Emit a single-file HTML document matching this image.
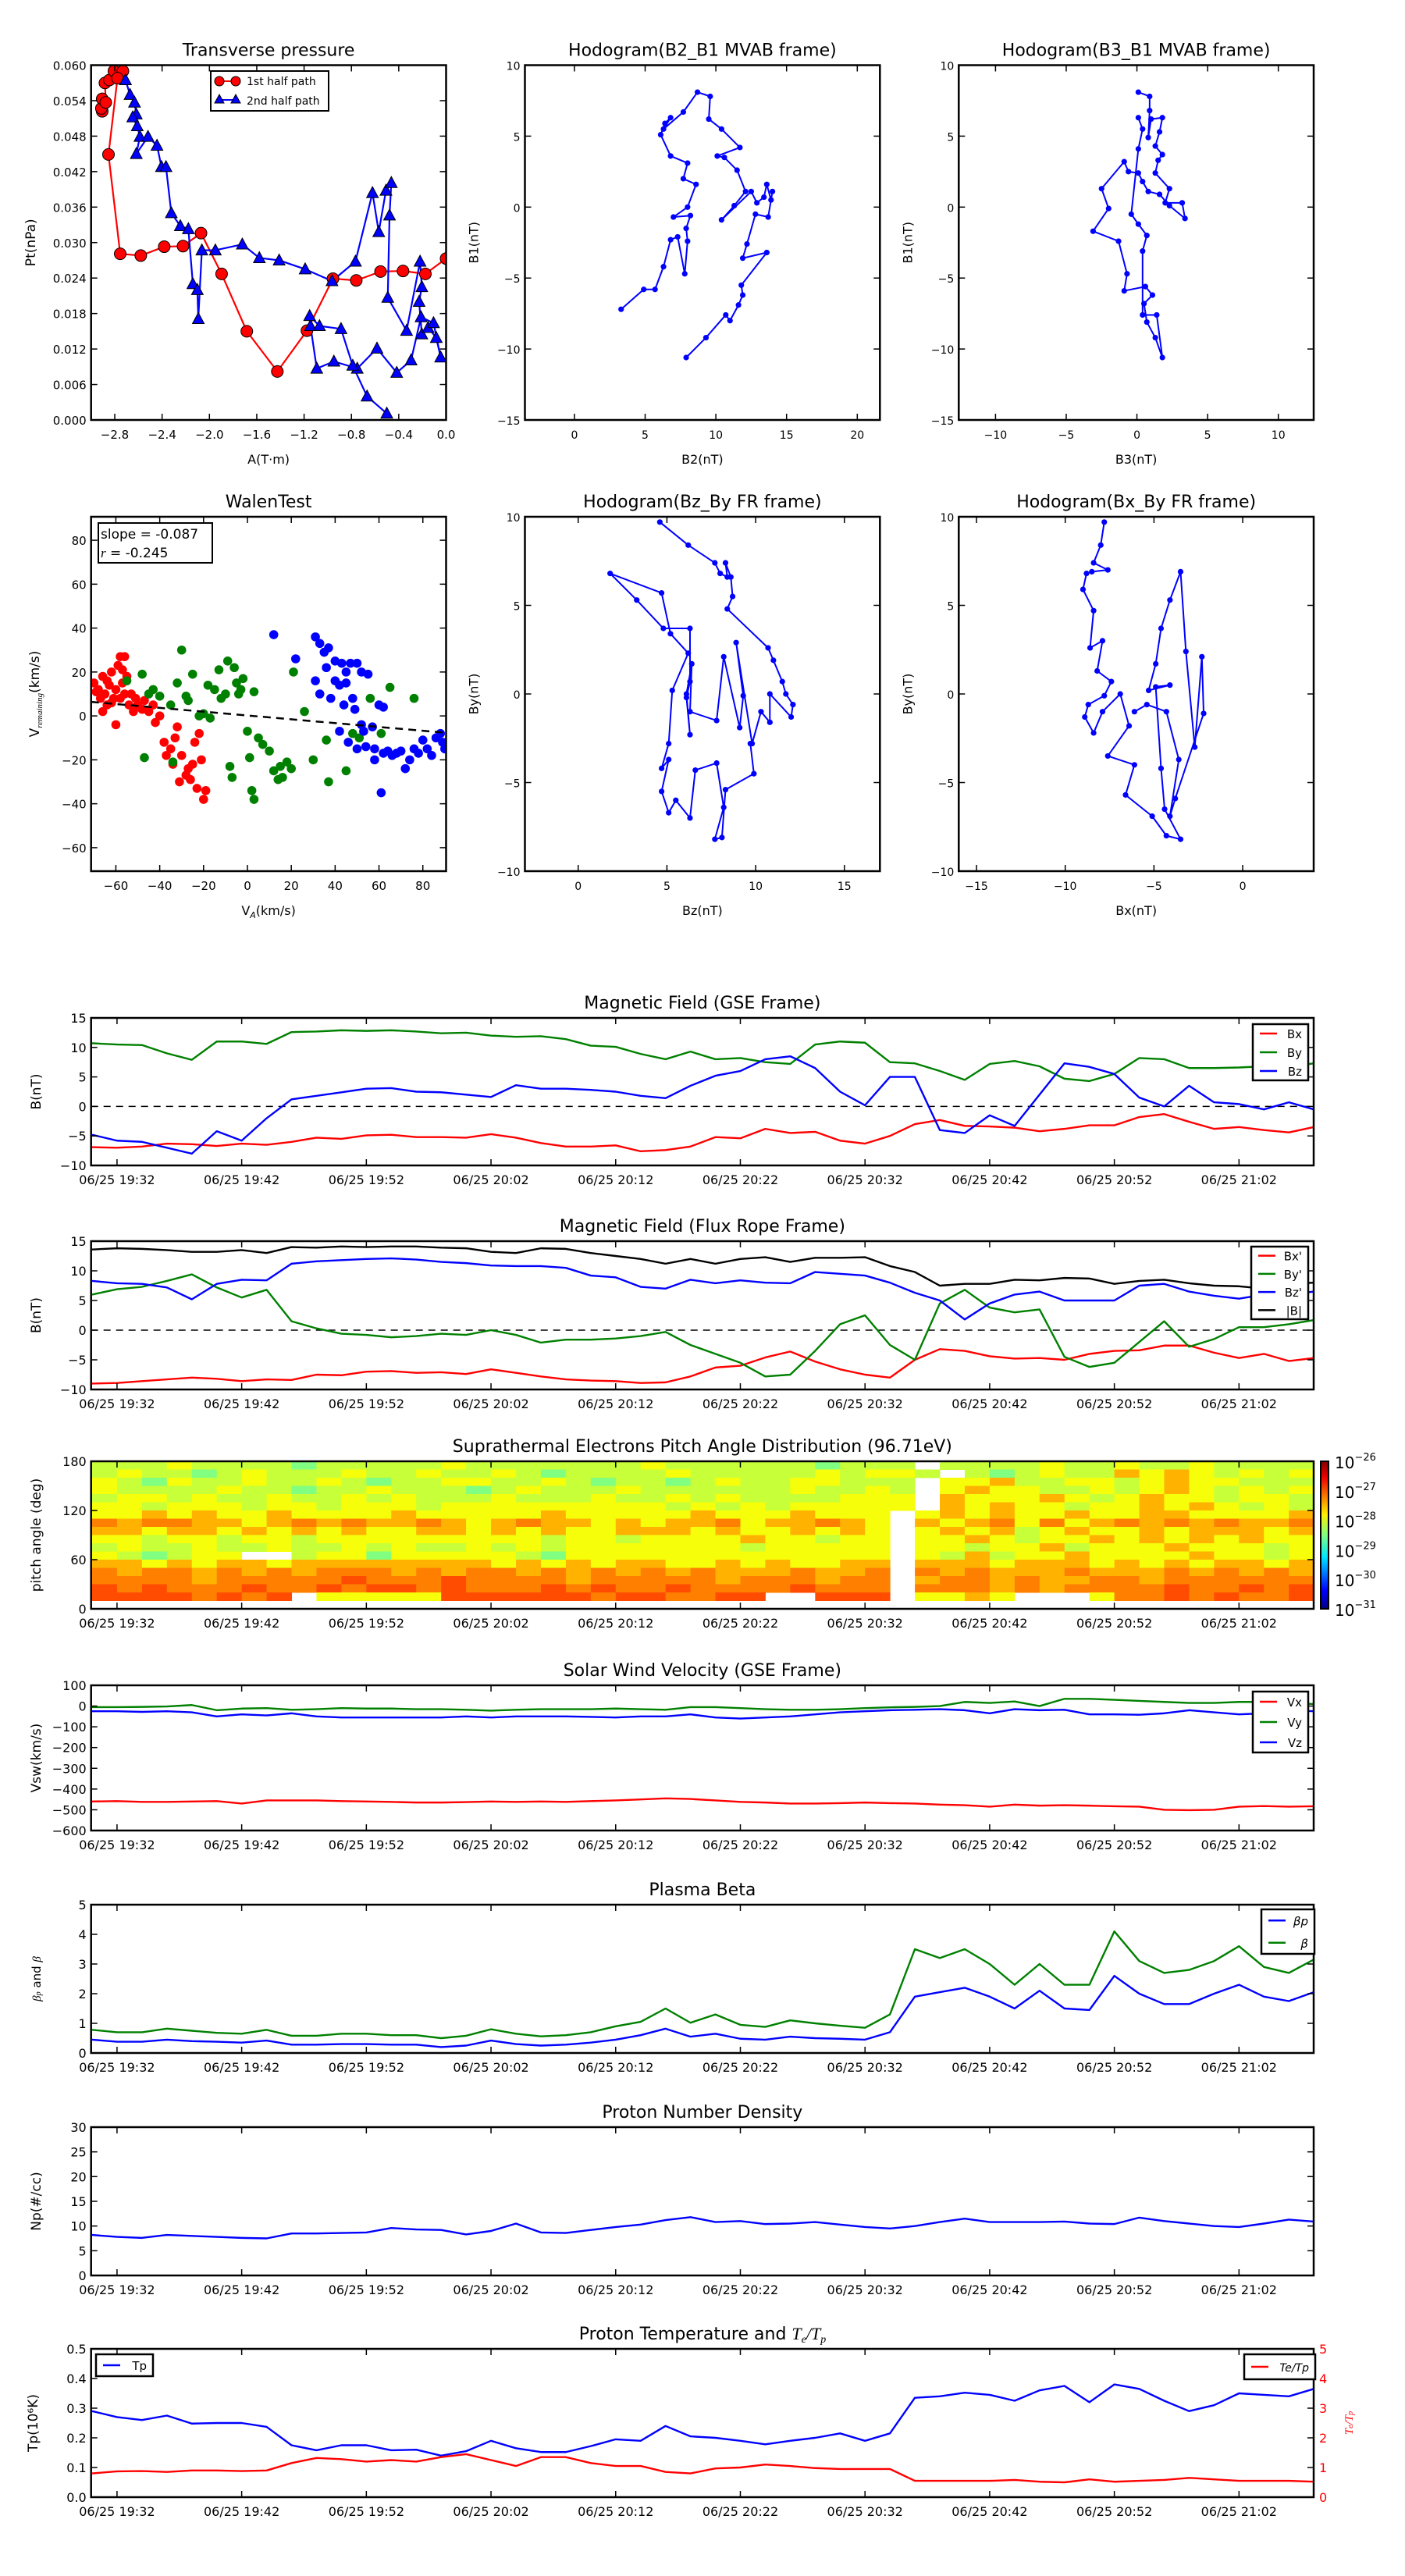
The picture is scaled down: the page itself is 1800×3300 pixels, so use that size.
<!DOCTYPE html>
<html><head><meta charset="utf-8"><style>
html,body{margin:0;padding:0;background:#fff;}
svg{display:block;font-family:"DejaVu Sans","Liberation Sans",sans-serif;}
</style></head><body>
<svg id="fig" xmlns="http://www.w3.org/2000/svg" width="1800" height="3300" viewBox="0 0 1800 3300">
<rect width="1800" height="3300" fill="#fff"/>
</svg>
<script>
// ---------- data ----------
const tpA1=[-2.906,-2.913,-2.906,-2.876,-2.883,-2.845,-2.807,-2.731,-2.777,-2.853,-2.754,-2.580,-2.382,-2.223,-2.071,-1.897,-1.684,-1.426,-1.176,-0.956,-0.759,-0.554,-0.364,-0.175,0];
const tpP1=[0.0522,0.0527,0.0543,0.0537,0.0570,0.0575,0.0590,0.0590,0.0578,0.0449,0.0281,0.0278,0.0293,0.0294,0.0316,0.0247,0.0150,0.0082,0.0151,0.0239,0.0236,0.0251,0.0252,0.0247,0.0273];
const tpA2=[-2.709,-2.671,-2.633,-2.618,-2.648,-2.610,-2.587,-2.618,-2.519,-2.443,-2.405,-2.367,-2.322,-2.246,-2.178,-2.140,-2.102,-2.094,-2.064,-1.950,-1.722,-1.578,-1.411,-1.191,-0.964,-0.766,-0.622,-0.569,-0.508,-0.463,-0.478,-0.493,-0.334,-0.220,-0.205,-0.228,-0.205,-0.152,-0.083,-0.046,-0.106,-0.212,-0.296,-0.417,-0.584,-0.751,-0.948,-1.093,-1.146,-1.153,-1.070,-0.888,-0.789,-0.668,-0.501];
const tpP2=[0.0575,0.0550,0.0537,0.0517,0.0512,0.0497,0.0479,0.0450,0.0479,0.0464,0.0428,0.0428,0.0350,0.0328,0.0323,0.0230,0.0220,0.0171,0.0287,0.0287,0.0297,0.0274,0.0270,0.0255,0.0235,0.0268,0.0384,0.0318,0.0388,0.0401,0.0346,0.0207,0.0151,0.0268,0.0225,0.0200,0.0145,0.0156,0.0139,0.0106,0.0164,0.0174,0.0101,0.0080,0.0121,0.0087,0.0099,0.0087,0.0159,0.0176,0.0159,0.0154,0.0092,0.0040,0.0011];

const h1X=[3.3,4.9,5.7,6.3,6.8,7.3,7.8,8.0,7.9,8.2,7.0,8.0,8.6,7.7,8.0,6.8,6.1,6.4,6.8,6.3,7.7,8.7,9.6,9.5,10.4,11.7,10.1,10.6,11.5,12.1,11.3,10.4,12.5,12.9,13.4,13.6,13.9,14.0,13.7,12.8,12.2,11.9,13.6,11.8,11.9,11.6,11.0,10.7,9.3,7.9];
const h1Y=[-7.2,-5.8,-5.8,-4.2,-2.3,-2.1,-4.7,-2.4,-1.5,-0.6,-0.7,0,1.6,2.0,3.1,3.6,5.1,5.9,6.3,5.5,6.7,8.1,7.8,6.2,5.5,4.2,3.6,3.5,2.6,1.1,0.1,-0.9,1.1,0.3,0.7,1.6,0.5,1.1,-0.7,-0.5,-2.6,-3.6,-3.2,-5.5,-6.2,-6.9,-8.0,-7.6,-9.2,-10.6];
const h2X=[0.1,0.9,0.9,0.8,1.0,1.8,1.6,1.3,1.8,1.5,1.3,2.3,2.0,3.2,3.4,2.3,1.6,0.8,0.4,0.1,-0.6,-0.9,-2.5,-2.0,-3.1,-1.3,-0.7,-0.9,0.6,1.1,0.5,0.7,1.3,1.8,1.4,0.4,0.4,0.7,0.1,-0.4,0.1,0.4,0.1];
const h2Y=[8.1,7.8,6.8,4.9,6.2,6.3,5.3,4.3,3.7,3.3,2.4,1.3,0.3,0.3,-0.8,0.1,0.9,1.1,1.8,2.4,2.5,3.2,1.3,-0.1,-1.7,-2.4,-4.7,-5.9,-5.6,-6.2,-6.8,-8.1,-9.2,-10.6,-7.6,-7.6,-3.1,-2.0,-1.2,-0.5,4.1,5.5,6.3];
const h3X=[4.6,6.2,7.7,8.0,8.4,8.3,8.6,8.7,8.4,10.7,11.0,11.5,11.7,12.1,12.0,10.8,10.8,10.3,9.8,8.9,9.3,9.1,8.2,7.8,6.3,6.4,6.1,6.3,6.1,6.3,6.3,4.8,3.3,1.8,4.7,5.2,6.2,5.3,5.1,4.7,5.1,4.7,5.1,5.5,6.3,6.6,7.8,8.2,7.7,8.1,8.3,9.9,9.7];
const h3Y=[9.7,8.4,7.4,6.8,6.6,7.4,6.6,5.5,4.8,2.6,1.9,0.7,0.0,-0.6,-1.3,0.0,-1.6,-1.0,-2.8,2.9,-0.1,-1.9,2.1,-1.5,-1.0,1.7,0.0,-2.3,-0.2,0.7,3.7,3.7,5.3,6.8,5.7,3.4,2.3,0.2,-2.8,-4.2,-3.7,-5.5,-6.7,-6.0,-7.0,-4.3,-3.9,-6.4,-8.2,-8.1,-5.4,-4.5,-2.8];
const h4X=[-7.8,-8.0,-8.4,-7.6,-8.5,-8.8,-9.0,-8.4,-8.6,-7.9,-8.2,-7.4,-7.8,-8.7,-8.9,-8.4,-7.9,-6.9,-6.4,-7.6,-6.1,-6.6,-5.1,-4.3,-3.5,-4.4,-4.6,-4.9,-4.1,-5.3,-4.9,-4.6,-4.1,-3.5,-3.2,-2.7,-2.3,-2.2,-3.8,-4.1,-3.6,-4.3,-5.4,-6.1];
const h4Y=[9.7,8.4,7.4,7.0,6.9,6.8,5.9,4.7,2.6,3.0,1.3,0.7,-0.1,-0.6,-1.3,-2.2,-1.0,0.0,-1.8,-3.5,-4.0,-5.7,-6.9,-8.0,-8.2,-6.5,-4.2,0.4,0.5,0.2,1.7,3.7,5.3,6.9,2.4,-3.0,2.1,-1.1,-5.9,-6.9,-3.7,-1.0,-0.6,-1.0];

const wRedX=[-70,-68,-67,-66,-65,-64,-63,-62,-61,-60,-59,-58,-57,-56,-56,-55,-54,-53,-52,-51,-50,-48,-47,-45,-43,-42,-40,-38,-37,-35,-34,-33,-32,-31,-30,-28,-27,-26,-25,-24,-23,-22,-21,-20,-19,-60,-66,-62,-58,-69,-64,-57];
const wRedY=[15,12,8,18,10,5,14,20,8,12,23,27,15,10,27,18,5,10,2,8,5,3,7,2,5,-3,0,-12,-18,-15,-22,-10,-5,-30,-18,-27,-24,-29,-22,-12,-33,-8,-20,-38,-34,-4,2,6,8,11,16,21];
const wGrnX=[-55,-47,-48,-45,-43,-40,-35,-32,-30,-28,-27,-25,-22,-20,-18,-17,-15,-13,-12,-10,-9,-8,-7,-6,-5,-4,-3,-2,0,1,2,3,3,5,7,10,12,14,16,18,20,21,26,30,36,37,45,48,51,56,61,65,76,15,-34];
const wGrnY=[16,-19,19,10,12,9,5,15,30,9,7,19,0,1,14,-1,12,21,8,10,25,-23,-28,22,15,10,12,17,-7,-19,-34,-38,11,-10,-13,-16,-25,-29,-28,-21,-24,20,2,-20,-11,-30,-25,-8,-10,8,-8,13,8,-23,-21];
const wBluX=[12,22,31,33,35,37,40,43,36,47,50,52,55,40,42,45,33,38,44,49,52,54,58,58,62,64,66,68,70,72,74,76,78,80,82,84,86,88,90,89,60,62,57,53,46,42,61,45,50,31,48];
const wBluY=[37,26,36,33,29,31,25,24,22,24,24,20,19,16,14,20,10,8,5,3,-4,-14,-15,-20,-17,-16,-18,-17,-16,-24,-20,-15,-17,-11,-15,-18,-10,-8,-15,-12,5,4,-5,-7,-12,-7,-35,15,-15,16,8];
const wSlope=[-0.087];
const wIntercept=[0.2];

const times=[-2,0,2,4,6,8,10,12,14,16,18,20,22,24,26,28,30,32,34,36,38,40,42,44,46,48,50,52,54,56,58,60,62,64,66,68,70,72,74,76,78,80,82,84,86,88,90,92,94,96];
const tickMin=[0,10,20,30,40,50,60,70,80,90];
const tickLbl=['06/25 19:32','06/25 19:42','06/25 19:52','06/25 20:02','06/25 20:12','06/25 20:22','06/25 20:32','06/25 20:42','06/25 20:52','06/25 21:02'];

const gseBx=[-6.9,-7,-6.8,-6.3,-6.4,-6.7,-6.3,-6.5,-6.0,-5.3,-5.5,-4.9,-4.8,-5.2,-5.2,-5.3,-4.7,-5.3,-6.2,-6.8,-6.8,-6.6,-7.6,-7.4,-6.8,-5.2,-5.4,-3.8,-4.5,-4.3,-5.8,-6.3,-5.0,-3.0,-2.3,-3.3,-3.4,-3.6,-4.2,-3.8,-3.2,-3.2,-1.8,-1.3,-2.6,-3.8,-3.5,-4.0,-4.4,-3.5];
const gseBy=[10.7,10.5,10.4,9.0,7.9,11.0,11.0,10.6,12.6,12.7,12.9,12.8,12.9,12.7,12.4,12.5,12.0,11.8,11.9,11.4,10.3,10.1,8.9,8.0,9.3,8.0,8.2,7.5,7.2,10.5,11.0,10.8,7.5,7.3,6.0,4.5,7.2,7.7,6.8,4.7,4.3,5.5,8.2,8.0,6.5,6.5,6.6,6.8,6.7,7.3];
const gseBz=[-4.8,-5.8,-6.0,-7.0,-8.0,-4.2,-5.8,-2.0,1.2,1.8,2.4,3.0,3.1,2.5,2.4,2.0,1.6,3.6,3.0,3.0,2.8,2.5,1.8,1.4,3.5,5.2,6.0,8.0,8.5,6.5,2.5,0.2,5.0,5.0,-4.0,-4.5,-1.5,-3.3,2.0,7.3,6.7,5.5,1.5,0.0,3.5,0.7,0.4,-0.5,0.7,-0.5];
const frBx=[-9,-8.9,-8.6,-8.3,-8.0,-8.2,-8.6,-8.3,-8.4,-7.5,-7.6,-7.0,-6.9,-7.2,-7.1,-7.4,-6.6,-7.2,-7.8,-8.3,-8.5,-8.6,-8.9,-8.8,-7.8,-6.3,-6.0,-4.6,-3.6,-5.3,-6.6,-7.5,-8.0,-5.0,-3.2,-3.5,-4.4,-4.8,-4.7,-5.0,-4.0,-3.5,-3.4,-2.6,-2.6,-3.8,-4.7,-4.0,-5.2,-4.7];
const frBy=[6.0,6.9,7.3,8.3,9.4,7.2,5.5,6.8,1.5,0.3,-0.6,-0.8,-1.2,-1.0,-0.6,-0.8,0.0,-0.8,-2.1,-1.6,-1.6,-1.4,-1.0,-0.3,-2.5,-4.0,-5.5,-7.8,-7.5,-3.5,1.0,2.5,-2.5,-5.0,4.5,6.8,3.8,3.0,3.5,-4.5,-6.2,-5.5,-2.0,1.5,-2.8,-1.5,0.5,0.5,1.0,1.7];
const frBz=[8.3,7.9,7.8,7.2,5.2,7.8,8.5,8.4,11.2,11.6,11.8,12.0,12.1,11.9,11.5,11.3,10.9,10.8,10.8,10.5,9.2,8.9,7.3,7.0,8.5,7.9,8.4,8.0,7.9,9.8,9.5,9.2,8.0,6.3,5.0,1.8,4.5,6.0,6.5,5.0,5.0,5.0,7.5,7.8,6.5,5.8,5.3,6.0,6.0,6.5];
const frBt=[13.6,13.8,13.7,13.5,13.2,13.2,13.5,13.0,14.0,13.9,14.1,14.0,14.1,14.1,13.9,13.8,13.2,13.0,13.8,13.7,13.0,12.5,12.0,11.2,12.0,11.2,12.0,12.3,11.5,12.2,12.2,12.3,10.8,9.8,7.5,7.8,7.8,8.5,8.4,8.8,8.7,7.8,8.3,8.5,7.9,7.5,7.4,7.0,7.8,8.0];

const padCodes={g:-28.5,l:-28.15,y:-27.92,o:-27.5,O:-27.25,r:-27.0};
const padRows=[
"lllyllllglllllylllllllyllllllglllwllllyllyllylllll",
"lyllglylllyllyllylgllllylllllylyylwlglylloyoylylyl",
"ylgyllyllylgllyyllylgllglyllyylllwyyollyylyoyyllly",
"yllllyllgllylllglylllyllllllyllylwyoyyllylyoylylyl",
"lyylyllyllylylllylllyllylyllllyyywoyyyoylyoyylyyl",
"yylyyylyylyyylyyyyyyyyylylylyyyyywoyoyylyyoyoylyl",
"yyoyoyyoyyyyoyyyyyoyyyyyoyyyoyyywyoyoyyoyyooyyyyo",
"OoOOooyoOoOooOoyoOooyoyooOyooOoywoyoOyOyoOoOoOooO",
"ooyooyoyoyoyyooyoyoyyoooyoyyoyoywyoyolyoyyoyoooyo",
"yylyylyylyyyyyyyyylyylyyyyoyylyywyyoylyyoyoyoyoyy",
"lyllyllyllylyllylylyyyyyyylyyyyywyylyyolyyyoyyyly",
"ylglyywwlyygyyyyylgyyyyyyyyyyyyywylolyyoyyyyoyyly",
"ooyoyooyooooooooyoyoyooyyoyoyyoowoooyoooyoyoyooyo",
"OoOOoOoOoOOOoOoOOoOoOoOoOoooOooOwOoOoooOoooOoOoOo",
"OOOOoOOOOOrOOOrOOOOoOOOOOoOOOoOOwoOOoOooOOoOOOOOO",
"rOrOOOrOOrOrrOrOOOrOrOOrOOOOrOOOwOOOoOoOOOOrOOrOr",
"rrrrOrOrwyyyyyrrrrrrOrrOOrrwwrrrwyyoywwwyOOrOrOOr",
"wwwwwwwwwwwwwwwwwwwwwwwwwwwwwwwwwwwwwwwwwwwwwwwww"];

const vVx=[-460,-458,-462,-462,-460,-458,-470,-455,-455,-455,-458,-460,-462,-465,-465,-463,-460,-462,-460,-462,-458,-455,-450,-445,-448,-455,-462,-465,-470,-470,-468,-465,-468,-470,-475,-478,-485,-475,-480,-478,-480,-483,-485,-500,-502,-500,-485,-482,-485,-483];
const vVy=[-5,-5,-4,-2,5,-20,-12,-10,-18,-15,-10,-12,-12,-15,-15,-18,-22,-18,-15,-15,-15,-12,-15,-18,-5,-5,-10,-15,-18,-18,-15,-10,-6,-4,0,20,15,22,0,35,35,30,25,20,15,15,20,20,15,10];
const vVz=[-25,-25,-28,-25,-30,-50,-40,-45,-35,-50,-55,-55,-55,-55,-55,-50,-55,-50,-50,-50,-52,-55,-50,-50,-40,-55,-60,-55,-50,-40,-30,-25,-20,-18,-15,-20,-35,-15,-20,-18,-40,-40,-42,-35,-20,-30,-40,-35,-20,-25];

const betaP=[0.45,0.38,0.38,0.45,0.4,0.38,0.35,0.42,0.28,0.28,0.3,0.3,0.28,0.28,0.2,0.25,0.42,0.3,0.25,0.28,0.35,0.45,0.6,0.82,0.55,0.65,0.48,0.45,0.55,0.5,0.48,0.45,0.7,1.9,2.05,2.2,1.9,1.5,2.1,1.5,1.45,2.6,2.0,1.65,1.65,2.0,2.3,1.9,1.75,2.05];
const betaT=[0.78,0.7,0.7,0.82,0.75,0.68,0.65,0.78,0.58,0.58,0.65,0.65,0.6,0.6,0.5,0.58,0.8,0.65,0.56,0.6,0.7,0.9,1.05,1.5,1.02,1.3,0.95,0.88,1.1,1.0,0.92,0.85,1.3,3.5,3.2,3.5,3.0,2.3,3.0,2.3,2.3,4.1,3.1,2.7,2.8,3.1,3.6,2.9,2.7,3.15];
const dens=[8.2,7.8,7.6,8.2,8.0,7.8,7.6,7.5,8.5,8.5,8.6,8.7,9.6,9.3,9.2,8.3,9.0,10.5,8.7,8.6,9.2,9.8,10.3,11.2,11.8,10.8,11.0,10.4,10.5,10.8,10.3,9.8,9.5,10.0,10.8,11.5,10.8,10.8,10.8,10.9,10.5,10.4,11.7,11.0,10.5,10.0,9.8,10.5,11.3,10.9];
const tempTp=[0.29,0.27,0.26,0.275,0.248,0.25,0.25,0.237,0.175,0.158,0.175,0.175,0.158,0.16,0.14,0.155,0.19,0.165,0.152,0.152,0.172,0.195,0.19,0.24,0.205,0.2,0.19,0.178,0.19,0.2,0.215,0.19,0.215,0.335,0.34,0.352,0.345,0.325,0.36,0.375,0.32,0.38,0.365,0.325,0.29,0.31,0.35,0.345,0.34,0.365];
const tempRatio=[0.8,0.87,0.88,0.85,0.9,0.9,0.88,0.9,1.15,1.32,1.28,1.2,1.25,1.2,1.35,1.45,1.25,1.05,1.35,1.35,1.15,1.05,1.05,0.85,0.8,0.97,1.0,1.1,1.05,0.98,0.95,0.95,0.95,0.55,0.55,0.55,0.55,0.58,0.52,0.5,0.6,0.52,0.55,0.58,0.65,0.6,0.55,0.55,0.55,0.52];

// ---------- helpers ----------
const NS='http://www.w3.org/2000/svg';
const svg=document.getElementById('fig');
function mk(tag,attrs,parent){const e=document.createElementNS(NS,tag);for(const k in attrs)e.setAttribute(k,attrs[k]);(parent||svg).appendChild(e);return e;}
function T(x,y,s,size,anchor,parent,fill){const e=mk('text',{x:x,y:y,'font-size':size,'text-anchor':anchor||'middle',fill:fill||'#000'},parent);e.textContent=s;return e;}
function P(x0,y0,x1,y1,xd,yd){return {x0,y0,x1,y1,xd,yd,sx:v=>x0+(v-xd[0])/(xd[1]-xd[0])*(x1-x0),sy:v=>y1-(v-yd[0])/(yd[1]-yd[0])*(y1-y0)};}
const fmtM=v=>(v<0?'\u2212':'')+Math.abs(v);
function frame(p,g){const r=mk('rect',{x:p.x0,y:p.y0,width:p.x1-p.x0,height:p.y1-p.y0,fill:'none',stroke:'#000','stroke-width':2.5},g);

}
function yTicks(p,g,vals,lbls,size,right){
  const tg=mk('g',{},g);
  
  
  vals.forEach((v,i)=>{const y=p.sy(v);
    mk('line',{x1:p.x0,x2:p.x0+8,y1:y,y2:y,stroke:'#000','stroke-width':1.5},tg);
    if(!right)mk('line',{x1:p.x1,x2:p.x1-8,y1:y,y2:y,stroke:'#000','stroke-width':1.5},tg);
    const t=T(p.x0-6,y+6,lbls[i],size,'end',tg);
    
    });
}
function xTicks(p,g,vals,lbls,size){
  const tg=mk('g',{},g);
  
  
  vals.forEach((v,i)=>{const x=p.sx(v);
    mk('line',{x1:x,x2:x,y1:p.y1,y2:p.y1-8,stroke:'#000','stroke-width':1.5},tg);
    mk('line',{x1:x,x2:x,y1:p.y0,y2:p.y0+8,stroke:'#000','stroke-width':1.5},tg);
    const t=T(x,p.y1+24,lbls[i],size,'middle',tg);
    
    });
}
function clip(p,id){const d=mk('clipPath',{id:id});mk('rect',{x:p.x0,y:p.y0,width:p.x1-p.x0,height:p.y1-p.y0},d);return 'url(#'+id+')';}
function poly(p,g,xs,ys,color,w){return mk('polyline',{points:xs.map((x,i)=>p.sx(x)+','+p.sy(ys[i])).join(' '),fill:'none',stroke:color,'stroke-width':w||2.2,'stroke-linejoin':'round'},g);}
function title(p,g,s,size){const t=T((p.x0+p.x1)/2,p.y0-12,s,size||22,'middle',g);

return t;}
function ylabel(x,y,s,g,size){const t=T(x,y,s,size||17,'middle',g);t.setAttribute('transform','rotate(-90 '+x+' '+y+')');

return t;}
function xlabel(p,s,g){const t=T((p.x0+p.x1)/2,p.y1+56,s,16,'middle',g);

return t;}
function range(a,b,s){const r=[];for(let v=a;v<=b+1e-9;v+=s)r.push(+v.toFixed(6));return r;}
function legend(g,x,y,w,h,items,size){const lg=mk('g',{},g);


mk('rect',{x:x,y:y,width:w,height:h,fill:'#fff',stroke:'#000','stroke-width':2.5},lg);
items.forEach((it,i)=>{const yy=y+h/items.length*(i+0.5);
const e=mk('g',{},lg);


mk('line',{x1:x+9,x2:x+31,y1:yy,y2:yy,stroke:it[1],'stroke-width':2.5},e);
T(x+w-8,yy+6,it[0],size||15,'end',e).setAttribute('font-style',it[2]?'italic':'normal');});}

// ---------- top row ----------
const C1=[116.7,571.5],C2=[672.5,1127.3],C3=[1228.3,1683];
const R1=[83.5,538],R2=[662,1116];

// Transverse pressure
{const g=mk('g',{});


const p=P(C1[0],R1[0],C1[1],R1[1],[-3.0,0],[0,0.06]);
title(p,g,'Transverse pressure');
const cp=clip(p,'c1');
const dg=mk('g',{'clip-path':cp},g);
poly(p,dg,tpA1,tpP1,'#f00',2.2);
poly(p,dg,tpA2,tpP2,'#00f',2.2);
tpA1.forEach((a,i)=>{const c=mk('circle',{cx:p.sx(a),cy:p.sy(tpP1[i]),r:7.5,fill:'#f00',stroke:'#000','stroke-width':1},dg);

});
tpA2.forEach((a,i)=>{const x=p.sx(a),y=p.sy(tpP2[i]);const c=mk('polygon',{points:(x)+','+(y-8)+' '+(x-7.5)+','+(y+6)+' '+(x+7.5)+','+(y+6),fill:'#00f',stroke:'#000','stroke-width':1},dg);

});
frame(p,g);
yTicks(p,g,range(0,0.06,0.006),range(0,0.06,0.006).map(v=>v.toFixed(3)),15);
const xv=[-2.8,-2.4,-2.0,-1.6,-1.2,-0.8,-0.4,0.0];
xTicks(p,g,xv,xv.map(v=>v===0?'0.0':fmtM(v.toFixed(1)*1).replace(/^(\u2212?\d)$/,'$1.0')),15);
xlabel(p,'A(T\u00b7m)',g);ylabel(45,(p.y0+p.y1)/2,'Pt(nPa)',g);
const lg=mk('g',{},g);


mk('rect',{x:270,y:91,width:151,height:51,fill:'#fff',stroke:'#000','stroke-width':2},lg);
mk('line',{x1:281,x2:302,y1:104,y2:104,stroke:'#f00','stroke-width':2},lg);
mk('circle',{cx:281,cy:104,r:6,fill:'#f00',stroke:'#000'},lg);mk('circle',{cx:302,cy:104,r:6,fill:'#f00',stroke:'#000'},lg);
T(316,109,'1st half path',14,'start',lg);
mk('line',{x1:281,x2:302,y1:128,y2:128,stroke:'#00f','stroke-width':2},lg);
mk('polygon',{points:'281,121 275,132 287,132',fill:'#00f',stroke:'#000'},lg);mk('polygon',{points:'302,121 296,132 308,132',fill:'#00f',stroke:'#000'},lg);
T(316,134,'2nd half path',14,'start',lg);}

function hodo(name,col,row,xd,yd,xs,ys,xt,yt,ttl,xl,yl){
const g=mk('g',{});


const p=P(col[0],row[0],col[1],row[1],xd,yd);
title(p,g,ttl);
poly(p,g,xs,ys,'#00f',2);
xs.forEach((x,i)=>{const c=mk('circle',{cx:p.sx(x),cy:p.sy(ys[i]),r:3.6,fill:'#00f'},g);

});
frame(p,g);yTicks(p,g,yt,yt.map(fmtM),14);xTicks(p,g,xt,xt.map(fmtM),14);
xlabel(p,xl,g);ylabel(col[0]-60,(p.y0+p.y1)/2,yl,g,16);}
hodo('hodogram-b2-b1',C2,R1,[-3.5,21.6],[-15,10],h1X,h1Y,[0,5,10,15,20],[-15,-10,-5,0,5,10],'Hodogram(B2_B1 MVAB frame)','B2(nT)','B1(nT)');
hodo('hodogram-b3-b1',C3,R1,[-12.6,12.5],[-15,10],h2X,h2Y,[-10,-5,0,5,10],[-15,-10,-5,0,5,10],'Hodogram(B3_B1 MVAB frame)','B3(nT)','B1(nT)');
hodo('hodogram-bz-by',C2,R2,[-3.0,17.0],[-10,10],h3X,h3Y,[0,5,10,15],[-10,-5,0,5,10],'Hodogram(Bz_By FR frame)','Bz(nT)','By(nT)');
hodo('hodogram-bx-by',C3,R2,[-16.0,4.0],[-10,10],h4X,h4Y,[-15,-10,-5,0],[-10,-5,0,5,10],'Hodogram(Bx_By FR frame)','Bx(nT)','By(nT)');

// Walen test
{const g=mk('g',{});


const p=P(C1[0],R2[0],C1[1],R2[1],[-71.3,90.6],[-70.7,90.7]);
title(p,g,'WalenTest');
const dg=mk('g',{'clip-path':clip(p,'cw')},g);
[[wRedX,wRedY,'#f00'],[wGrnX,wGrnY,'#008000'],[wBluX,wBluY,'#00f']].forEach(s=>{
s[0].forEach((x,i)=>{const c=mk('circle',{cx:p.sx(x),cy:p.sy(s[1][i]),r:5.8,fill:s[2]},dg);

});});
const fl=mk('line',{x1:p.sx(-71.3),y1:p.sy(wIntercept[0]+wSlope[0]*-71.3),x2:p.sx(90.6),y2:p.sy(wIntercept[0]+wSlope[0]*90.6),stroke:'#000','stroke-width':2.5,'stroke-dasharray':'10,7'},dg);


frame(p,g);
const yv=[-60,-40,-20,0,20,40,60,80];yTicks(p,g,yv,yv.map(fmtM),15);xTicks(p,g,[-60,-40,-20,0,20,40,60,80],[-60,-40,-20,0,20,40,60,80].map(fmtM),15);
const xl=T((p.x0+p.x1)/2,p.y1+56,'',16,'middle',g);xl.innerHTML='V<tspan font-size="11" font-style="italic" dy="4">A</tspan><tspan dy="-4">(km/s)</tspan>';


const yl=T(50,(p.y0+p.y1)/2,'',17,'middle',g);yl.setAttribute('transform','rotate(-90 50 '+((p.y0+p.y1)/2)+')');
yl.innerHTML='V<tspan font-size="11" font-style="italic" font-family="Liberation Serif" dy="4">remaining</tspan><tspan dy="-4">(km/s)</tspan>';


const bx=mk('g',{},g);


mk('rect',{x:126,y:670,width:146,height:51,fill:'#fff',stroke:'#000','stroke-width':2},bx);
T(129,690,'slope = '+wSlope[0].toFixed(3),17,'start',bx);
const rt=T(129,714,'',17,'start',bx);rt.innerHTML='<tspan font-style="italic" font-family="Liberation Serif">r</tspan> = -0.245';}

// ---------- time series ----------
const TX=[116.7,1683],TD=[-2.08,95.99];
function tpanel(name,y0,y1,yd,yt,ttl,yl){
const g=mk('g',{});


const p=P(TX[0],y0,TX[1],y1,TD,yd);p.g=g;
title(p,g,ttl);
p.dg=mk('g',{'clip-path':clip(p,name+'-clip')},g);
if(yl)ylabel(52,(y0+y1)/2,yl,g);
p.fin=()=>{frame(p,g);yTicks(p,g,yt,yt.map(fmtM),16,p.right);xTicks(p,g,tickMin,tickLbl,16);};
return p;}
function series(p,ys,color,nm){const l=poly(p,p.dg,times,ys,color,2.4);

}
function zero(p){const l=mk('line',{x1:p.x0,x2:p.x1,y1:p.sy(0),y2:p.sy(0),stroke:'#000','stroke-width':1.5,'stroke-dasharray':'9,7'},p.dg);

}

{const p=tpanel('magnetic-field-gse',1304,1493,[-10,15],range(-10,15,5),'Magnetic Field (GSE Frame)','B(nT)');
zero(p);series(p,gseBx,'#f00','bx-line');series(p,gseBy,'#008000','by-line');series(p,gseBz,'#00f','bz-line');p.fin();
legend(p.g,1605,1312,71,72,[['Bx','#f00'],['By','#008000'],['Bz','#00f']],15);}
{const p=tpanel('magnetic-field-fr',1590,1780,[-10,15],range(-10,15,5),'Magnetic Field (Flux Rope Frame)','B(nT)');
zero(p);series(p,frBx,'#f00','bx-prime-line');series(p,frBy,'#008000','by-prime-line');series(p,frBz,'#00f','bz-prime-line');series(p,frBt,'#000','btotal-line');p.fin();
legend(p.g,1603,1597,73,93,[["Bx'",'#f00'],["By'",'#008000'],["Bz'",'#00f'],['|B|','#000']],15);}

// PAD heatmap
function jet(v){const n=Math.max(0,Math.min(1,(v+31)/5));const c=x=>Math.round(255*Math.max(0,Math.min(1,1.5-Math.abs(4*n-x))));return 'rgb('+c(3)+','+c(2)+','+c(1)+')';}
{const p=tpanel('pitch-angle-distribution',1872,2061,[0,180],[0,60,120,180],'Suprathermal Electrons Pitch Angle Distribution (96.71eV)','pitch angle (deg)');
const nr=padRows.length,dA=180/nr;
padRows.forEach((row,ri)=>{for(let ci=0;ci<row.length;ci++){const ch=row[ci];if(!(ch in padCodes))continue;
const t0=times[0]+ci*2;const a1=180-ri*dA;
const c=mk('rect',{x:p.sx(t0),y:p.sy(a1),width:p.sx(t0+2)-p.sx(t0)+0.5,height:p.sy(a1-dA)-p.sy(a1)+0.5,fill:jet(padCodes[ch])},p.dg);

}});
p.fin();
const cb=mk('g',{});


const gd=mk('linearGradient',{id:'jetg',x1:0,y1:1,x2:0,y2:0});
[0,0.11,0.125,0.34,0.35,0.5,0.64,0.65,0.89,0.91,1].forEach(o=>mk('stop',{offset:o,'stop-color':jet(-31+5*o)},gd));
mk('rect',{x:1692,y:1872,width:10,height:189,fill:'url(#jetg)',stroke:'#000','stroke-width':2},cb);
[-26,-27,-28,-29,-30,-31].forEach((e,i)=>{const y=1872+i*189/5;const t=T(1710,y+9,'10',20,'start',cb);
const s=mk('tspan',{'font-size':13,dy:-10},t);s.textContent='\u2212'+Math.abs(e);

});}

{const p=tpanel('solar-wind-velocity',2159,2345,[-600,100],range(-600,100,100),'Solar Wind Velocity (GSE Frame)','Vsw(km/s)');
series(p,vVx,'#f00','vx-line');series(p,vVy,'#008000','vy-line');series(p,vVz,'#00f','vz-line');p.fin();
legend(p.g,1605,2167,71,78,[['Vx','#f00'],['Vy','#008000'],['Vz','#00f']],15);}
{const p=tpanel('plasma-beta',2440,2630,[0,5],range(0,5,1),'Plasma Beta',null);
series(p,betaP,'#00f','beta-p-line');series(p,betaT,'#008000','beta-line');p.fin();
const yl=T(52,2535,'',15,'middle',p.g);yl.setAttribute('transform','rotate(-90 52 2535)');
yl.innerHTML='<tspan font-style="italic" font-family="Liberation Serif">\u03b2<tspan font-size="10">p</tspan></tspan> and <tspan font-style="italic" font-family="Liberation Serif">\u03b2</tspan>';


legend(p.g,1616,2446,68,57,[['\u03b2p','#00f',1],['\u03b2','#008000',1]],15);}
{const p=tpanel('proton-density',2725,2915,[0,30],range(0,30,5),'Proton Number Density','Np(#/cc)');
series(p,dens,'#00f','density-line');p.fin();}
{const p=tpanel('proton-temperature',3009,3199,[0,0.5],range(0,0.5,0.1),'',null);p.right=true;
const tt=T(900,2997,'',22,'middle',p.g);tt.innerHTML='Proton Temperature and <tspan font-style="italic" font-family="Liberation Serif">T<tspan font-size="14" dy="4">e</tspan><tspan dy="-4">/T</tspan><tspan font-size="14" dy="4">p</tspan></tspan>';


series(p,tempTp,'#00f','tp-line');
const p2=P(TX[0],3009,TX[1],3199,TD,[0,5]);
const l=poly(p2,p.dg,times,tempRatio,'#f00',2.4);


const yv=range(0,0.5,0.1);
p.fin=null;frame(p,p.g);yTicks(p,p.g,yv,yv.map(v=>v.toFixed(1)),16,true);xTicks(p,p.g,tickMin,tickLbl,16);
const rg=mk('g',{},p.g);


[0,1,2,3,4,5].forEach(v=>{const y=p2.sy(v);mk('line',{x1:p2.x1,x2:p2.x1-8,y1:y,y2:y,stroke:'#000','stroke-width':1.5},rg);T(p2.x1+7,y+6,String(v),16,'start',rg,'#f00');});
const y1=T(1733,3104,'',15,'middle',p.g,'#f00');y1.setAttribute('transform','rotate(-90 1733 3104)');
y1.innerHTML='<tspan font-style="italic" font-family="Liberation Serif">T<tspan font-size="10">e</tspan>/T<tspan font-size="10">p</tspan></tspan>';
ylabel(48,3104,'Tp(10\u2076K)',p.g);
legend(p.g,123,3016,73,28,[['Tp','#00f']],15);
legend(p.g,1594,3016,91,32,[['Te/Tp','#f00',1]],14);}
</script>
</body></html>
